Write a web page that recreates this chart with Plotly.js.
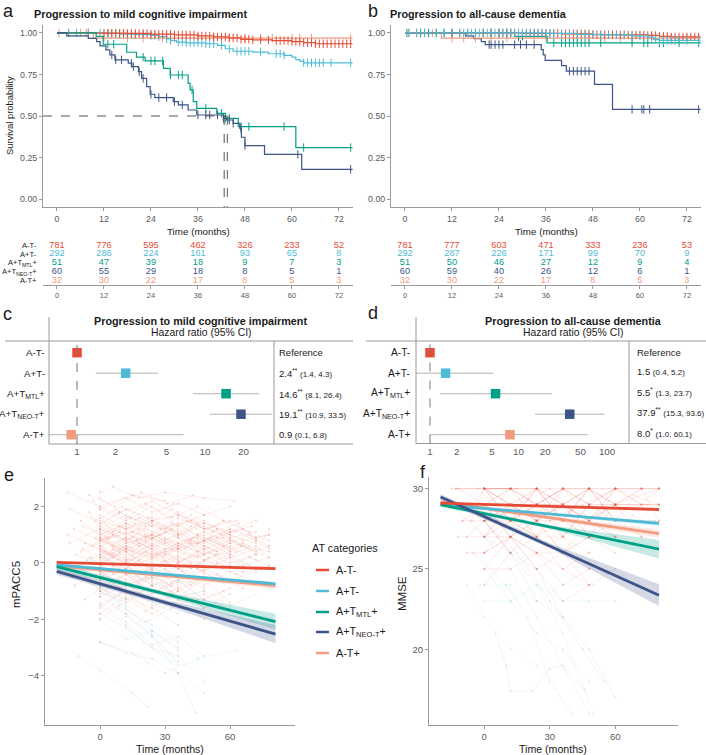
<!DOCTYPE html>
<html><head><meta charset="utf-8">
<script src="https://cdn.plot.ly/plotly-3.0.1.min.js"></script>
<style>html,body{margin:0;padding:0;background:#fff}#chart{width:706px;height:755px}</style>
</head><body><div id="chart"></div>
<script>
// ---------------- DATA ----------------
const groups = ['A-T-','A+T-','A+T<sub>MTL</sub>+','A+T<sub>NEO-T</sub>+','A-T+'];
const colors = ['#E64B35','#4DBBD5','#00A087','#3C5488','#F39B7F'];
const riskTimes = [0,12,24,36,48,60,72];

// Panel a: Kaplan-Meier, progression to MCI (step times, survival after step, censor times)
const aRedT = [0,10,18,24,30,36,40,44,47,50,55,60,63,66];
const aRedS = [1,0.999,0.997,0.993,0.988,0.982,0.976,0.97,0.962,0.958,0.954,0.948,0.942,0.935];
const aRedC = [12,13,14,15,16,17,18,19,20,21,22,23,24,25,26,27,28,29,30,31,32,33,34,35,36,37,38,39,40,41,42,43,44,45,46,47,48,49,50,52,54,56,57,58,59,60,61,62,63,64,65,66,67,68,69,70,71,72,73,74,75];
const aBlueT = [0,13,16,20,24,26,28,29,30.5,33,38,41,43,45,50,54,58,60,61,62,63];
const aBlueS = [1,0.997,0.993,0.99,0.985,0.978,0.965,0.955,0.945,0.94,0.935,0.925,0.905,0.89,0.885,0.875,0.865,0.855,0.84,0.83,0.82];
const aBlueC = [3,5,8,11,13,14,15,16,17,18,19,20,22,24,25,26,28,29,31,32,33,34,35,36,37,38,39,40,42,44,46,47,48,49,52,56,57,58,63,64,65,66,67,68,70,75];
const aGreenT = [0,10,11.8,17.8,20.3,22.5,27.2,28.9,33.5,34,34.8,35.7,40.8,43,46.3,61];
const aGreenS = [1,0.98,0.932,0.884,0.854,0.832,0.787,0.747,0.697,0.657,0.587,0.546,0.516,0.486,0.436,0.31];
const aGreenC = [13,14.5,22,24,25,27,29,31,32,34.5,38,42,43,44,47,49,58,63,75];
const aNavyT = [0,2.5,8,10.1,11,12.5,13.5,14.8,18.2,19.1,20.8,21.6,22.9,23.8,25,29.7,31,33.5,35.7,42.5,43.3,45,46.7,47.1,48,53,62.5];
const aNavyS = [1,0.983,0.967,0.948,0.922,0.898,0.868,0.838,0.818,0.797,0.767,0.727,0.677,0.631,0.611,0.587,0.567,0.536,0.506,0.486,0.476,0.456,0.426,0.372,0.322,0.269,0.179];
const aNavyC = [14,15,16.5,19,19.5,21,22,24,26,28,30,32,36,38,39,41,42.5,44,45,47,48,61.5,75];
const aSalT = [0,9.3];
const aSalS = [1,0.969];
const aSalC = [0.5,3,6,7.5,8,12,18,22,27,30,33,36,40,44,48,52,55,60,62,65,75];
const aMedians = [42.7,43.5];

// Panel b: Kaplan-Meier, progression to dementia
const bRedT = [0,30,40,48,55,62,65,68];
const bRedS = [1,0.998,0.995,0.99,0.988,0.985,0.98,0.976];
const bRedC = [12,14,16,18,20,22,24,25,26,27,28,29,30,31,32,33,34,35,36,37,38,39,40,41,42,43,44,45,46,47,48,49,50,51,52,53,54,55,56,57,58,59,60,61,62,63,64,65,66,67,68,69,70,71,72,73,74,75];
const bBlueT = [0,36,44,50,58,62,63.5,65];
const bBlueS = [1,0.997,0.992,0.988,0.983,0.975,0.96,0.955];
const bBlueC = [1,3,5,8,10,12,14,15,16,17,18,19,20,21,22,23,24,25,26,27,28,29,30,31,32,33,34,35,36,37,38,40,42,44,46,48,50,52,54,56,58,60,62,64,65,66,67,68,69,70,72,75];
const bGreenT = [0,28,36.3];
const bGreenS = [1,0.98,0.94];
const bGreenC = [0.5,4,5,6,8,10,12,20,22,24,26,27,29,30,38,40,41,42,43,44,45,46,47,50,58,61,62,65,66,70,75];
const bNavyT = [0,15.5,17.5,19.5,20.5,34.8,35.3,35.8,40,41.2,48.4,53];
const bNavyS = [1,0.983,0.966,0.948,0.93,0.9,0.868,0.835,0.803,0.77,0.69,0.54];
const bNavyC = [21.5,22,23,24,25,28,29.5,31,33,42,43,44,45,46,47,58,60.5,61,62.5,75];
const bSalT = [0,9.3];
const bSalS = [1,0.969];
const bSalC = [1,3,5,7,8,12,15,18,22,26,29,33,36,41,44,47,51,55,58,63,68,72,75];

// Numbers at risk
const riskA = [[781,776,595,462,326,233,52],[292,286,224,161,93,65,8],[51,47,39,18,9,7,3],[60,55,29,18,8,5,1],[32,30,22,17,8,5,3]];
const riskB = [[781,777,603,471,333,236,53],[292,287,226,171,99,70,9],[51,50,46,27,12,9,4],[60,59,40,26,12,6,1],[32,30,22,17,8,5,3]];

// Forest plots (hazard ratios)
const cHR = [1,2.4,14.6,19.1,0.9];
const cLo = [null,1.4,8.1,10.9,0.1];
const cHi = [null,4.3,26.4,33.5,6.8];
const cLabel = ['Reference','2.4<sup>**</sup>','14.6<sup>**</sup>','19.1<sup>**</sup>','0.9'];
const cCI = ['','(1.4, 4.3)','(8.1, 26.4)','(10.9, 33.5)','(0.1, 6.8)'];
const dHR = [1,1.5,5.5,37.9,8.0];
const dLo = [null,0.4,1.3,15.3,1.0];
const dHi = [null,5.2,23.7,93.6,60.1];
const dLabel = ['Reference','1.5','5.5<sup>*</sup>','37.9<sup>**</sup>','8.0<sup>*</sup>'];
const dCI = ['','(0.4, 5.2)','(1.3, 23.7)','(15.3, 93.6)','(1.0, 60.1)'];
const cTicks = [1,2,5,10,20];
const dTicks = [1,2,5,10,20,50,100];

// Panel e: individual mPACC5 trajectories [t0,y0,t1,y1,...]
const eTrajAmTm = [
[-12,1.2,0,0.8,15,1.1,30,0.7,45,0.9],[-8,0.5,0,0.2,12,0.6,24,0.3,36,0.5,48,0.1,60,0.4],
[0,1.5,12,1.2,24,1.6,36,1.0,48,1.3,60,0.9,72,1.1],[0,-0.6,12,-0.2,24,-0.8,36,-0.4,48,-0.9],
[-15,2.5,0,2.0,15,2.4,30,2.2],[0,0.3,15,0.9,30,0.5,45,0.2,60,0.7,78,0.4],
[0,-1.2,12,-0.7,24,-1.5,36,-1.0],[-5,1.8,0,1.4,12,1.9,24,1.5,36,1.7,48,1.2,63,1.5],
[0,0.0,12,0.4,24,-0.3,36,0.2,48,-0.1,60,0.3,72,-0.2],[0,0.9,12,0.5,24,1.0,36,0.6,48,1.1,60,0.7],
[-10,-0.3,0,-0.8,12,-0.4,24,-1.1,36,-0.6,48,-1.3,60,-0.9],[0,1.1,14,1.6,28,1.2,42,1.5,56,1.0,70,1.3],
[0,-0.2,12,0.3,24,0.0,36,-0.5,48,0.1,63,-0.4,78,-0.1],[-3,2.2,0,1.9,12,2.3,24,1.8,36,2.1,48,1.7,60,2.0],
[0,0.6,12,0.1,24,0.7,36,0.2,48,0.8,60,0.3,72,0.6,78,0.2],[0,-1.5,12,-1.0,24,-1.8,36,-1.3,48,-2.0],
[-14,0.7,0,1.2,12,0.8,24,1.3],[0,0.4,12,0.9,24,0.5,36,0.0,48,0.6,60,0.2,72,0.5],
[0,1.3,12,0.8,24,1.4,36,0.9,48,1.5,60,1.0,72,0.7],[0,-0.9,12,-0.4,24,-0.7,36,-1.2,48,-0.6,60,-1.4],
[-6,0.1,0,-0.3,12,0.2,24,-0.2,36,0.3,48,-0.4],[0,2.0,12,1.6,24,2.2,36,1.7,48,1.4],
[0,0.8,15,0.3,30,0.9,45,0.4,60,0.8,75,0.3],[0,-0.4,12,0.1,24,-0.6,36,-0.1,48,-0.8,60,-0.3,72,-0.7],
[-9,1.5,0,1.0,12,1.4,24,0.9,36,1.2,48,0.7,60,1.1],[0,0.2,12,-0.2,24,0.4,36,0.0,48,0.5,60,-0.1],
[0,1.7,12,1.2,24,1.5,36,1.0,48,1.4,60,1.1,72,1.5],[0,-0.1,12,0.5,24,0.2,36,0.7,48,0.3,60,0.8,72,0.4,78,0.6],
[-2,0.9,12,0.4,24,0.9,36,0.5,48,-0.1],[0,-1.8,12,-1.2,24,-1.6,36,-2.2],
[0,1.0,12,1.4,24,1.1,36,1.6,48,1.2,60,1.5,72,0.9],[0,0.5,12,0.0,24,0.6,36,0.1,48,-0.3,60,0.2,72,-0.2],
[-13,-0.5,0,-0.1,12,-0.6,24,-0.2],[0,2.5,6,2.7,18,2.3,30,2.5,48,2.3,62,2.2],
[0,0.7,12,1.1,24,0.6,36,1.0,48,0.5,60,0.9,72,0.3,78,1.2],[0,-0.7,12,-1.1,24,-0.5,36,-0.9,48,-1.6,60,-1.1],
[-4,1.6,0,1.2,12,1.7,24,1.3,36,1.8],[0,0.1,12,0.6,24,0.2,36,-0.2,48,0.4,60,0.0,72,0.3],
[0,1.2,12,0.7,24,1.0,36,1.4,48,0.8,60,1.2,72,0.9,78,1.0],[0,-0.3,12,-0.8,24,-0.4,36,-1.0,48,-0.5],
[0,0.9,12,1.3,24,0.8,36,0.4,48,0.9,60,0.5],[-11,0.3,0,0.0,12,0.5,24,0.1,36,0.6],
[0,1.9,12,1.5,24,2.0,36,1.3,48,1.7],[0,-1.0,12,-1.4,24,-0.8,36,-1.5,48,-1.1,60,-1.7],
[0,0.4,12,0.0,24,0.5,36,0.9,48,0.3,60,0.6,72,0.1],[0,0.6,12,0.9,24,0.3,36,0.7,48,1.0,60,0.4,72,0.8,78,0.5],
[-7,-1.3,0,-0.9,12,-1.3,24,-0.8],[0,1.4,12,1.0,24,1.5,36,1.1,48,0.6,60,1.0],
[0,-0.5,12,0.0,24,-0.3,36,-0.7,48,-0.2,60,-0.6,72,-0.3],[0,0.2,12,0.7,24,1.0,36,0.5,48,0.8,60,1.2,72,0.8],
[-15,1.0,-3,0.6,9,1.1,21,0.8,33,1.2,45,0.7,57,0.9,69,0.6],[-12,-0.8,0,-0.3,9,-0.9,21,-0.5,33,-1.0,45,-0.6],
[0,2.3,9,1.8,21,2.1,33,1.6,45,2.0,57,1.5],[0,0.0,6,0.5,18,-0.1,30,0.4,42,-0.2,54,0.3,66,-0.1,78,0.2],
[-9,0.4,3,0.9,15,0.4,27,1.0,39,0.5,51,0.9,63,0.4],[0,-1.6,9,-1.1,21,-1.7,33,-1.2],
[0,1.1,6,0.6,18,1.2,30,0.8,42,1.3,54,0.9,66,1.2,78,0.8],[-4,0.2,6,-0.4,18,0.1,30,-0.5,42,0.0,54,-0.6],
[0,0.8,9,1.3,21,0.9,33,1.4,45,1.0,57,1.5,69,1.1],[0,-0.2,6,0.3,18,-0.4,30,0.1,42,-0.5,54,0.0,66,-0.3],
[-14,1.9,-2,1.5,10,2.0,22,1.6,34,2.1],[0,0.5,6,1.0,18,0.6,30,1.1,42,0.7,54,1.2,66,0.8,78,1.0],
[0,-1.1,9,-0.6,21,-1.2,33,-0.7,45,-1.3,57,-1.0],[-7,0.7,5,0.3,17,0.8,29,0.2,41,0.7,53,0.3,65,0.6],
[0,1.6,6,1.1,18,1.6,30,1.2,42,1.7,54,1.2],[0,0.3,9,-0.2,21,0.4,33,-0.1,45,0.3,57,-0.2,69,0.2,78,-0.1],
[-10,-0.1,2,0.4,14,-0.2,26,0.3,38,-0.3,50,0.2],[0,1.3,9,1.8,21,1.3,33,1.9,45,1.4],
[0,-0.6,6,-0.1,18,-0.7,30,-0.2,42,-0.8,54,-0.4,66,-0.9],[0,0.9,9,0.4,21,1.0,33,0.5,45,1.0,57,0.6,69,1.0,78,0.6],
[-5,2.4,7,2.0,19,2.5,31,2.1,43,2.4],[0,-0.4,9,-0.9,21,-0.3,33,-0.8,45,-0.2,57,-0.7],
[0,0.6,6,0.2,18,0.7,30,0.3,42,0.8,54,0.4,66,0.7],[-8,1.3,4,0.9,16,1.4,28,1.0,40,1.5,52,1.1,64,1.4],
[0,-2.0,9,-1.5,21,-2.1,33,-1.6]
];
const eTrajAmTp = [
[0,0.2,12,-0.4,24,-0.1,36,-0.8,48,-0.5],[-6,-0.6,0,-1.0,12,-0.7,24,-1.3,36,-1.0,48,-1.6],
[0,0.9,12,0.4,24,0.6,36,0.1,48,0.3,60,-0.2],[0,-0.3,12,-0.9,24,-0.5,36,-1.2,48,-1.0,60,-1.5,72,-1.1],
[0,0.5,12,0.1,24,0.3,36,-0.2,48,0.0]
];
const eTrajApTm = [
[0,-0.5,12,-1.0,24,-1.4,36,-1.8],[0,-1.0,12,-1.5,24,-2.2,36,-2.8],
[-5,0.2,0,-0.3,12,-0.8,24,-0.5,36,-1.2,48,-1.0],[0,-2.0,12,-2.7,24,-2.4,36,-3.1],
[0,-1.5,12,-2.2,20,-2.8,33,-3.5],[-15,-0.2,0,-0.9,12,-1.3],
[0,0.3,12,-0.2,24,-0.8,36,-0.6,48,-1.3,60,-1.6],[0,-0.8,12,-1.8,24,-2.5,36,-3.6],
[0,-2.8,15,-3.2,30,-3.9,45,-3.4,63,-3.1]
];
const eTrajApTp = [
[0,-1.2,12,-1.8,24,-2.6,36,-3.9,44,-5.3],[-10,-3.3,0,-3.8,15,-4.6,22,-5.1],
[0,-2.8,12,-3.2,24,-3.4,36,-3.9,48,-4.6],[0,-0.8,12,-1.6,24,-2.4,36,-3.0],
[0,-1.8,12,-2.3,24,-3.0,36,-3.3,48,-4.2],[-8,-0.4,0,-1.0,12,-1.9,24,-2.6,36,-3.5],
[0,-1.4,12,-2.1,24,-2.9,36,-2.6,48,-3.3]
];
// Panel e model fits (x at -20, 30, 81): estimate, lower, upper
const fitXe = [-20,30,81];
const eFit = [[0.02,-0.09,-0.20],[-0.07,-0.40,-0.74],[-0.13,-1.10,-2.08],[-0.30,-1.40,-2.52],[-0.10,-0.45,-0.80]];
const eLo  = [[-0.01,-0.11,-0.24],[-0.13,-0.43,-0.80],[-0.25,-1.18,-2.36],[-0.42,-1.50,-2.84],[-0.20,-0.50,-0.92]];
const eHi  = [[0.05,-0.07,-0.16],[-0.01,-0.37,-0.68],[-0.01,-1.02,-1.80],[-0.18,-1.30,-2.20],[0.00,-0.40,-0.68]];

// Panel f: individual MMSE trajectories
const fTrajAmTm = [
[-13,30,0,30,12,29,24,30,36,30,48,29,60,30,80,30],[0,29,12,30,24,28,36,29,48,30,60,29,72,28],
[-10,28,0,29,12,27,24,28,36,29,48,27],[0,30,12,28,24,30,36,29,48,28,60,30,72,29,80,30],
[-5,29,0,30,15,30,30,28,45,29,60,30],[0,27,12,29,24,28,36,26,48,28],
[0,30,12,30,24,29,36,30,48,30,60,28,72,30],[-13,29,0,28,12,30,24,29,36,27,48,29,60,29,80,29],
[0,28,12,28,24,30,36,28,48,27,60,29],[0,30,12,29,24,29,36,30,48,29,60,30,72,30,80,28],
[-8,27,0,28,12,26,24,27,36,28],[0,29,12,27,24,29,36,28,48,30,60,28,72,27],
[0,26,12,28,24,27,36,25,48,26],[0,30,12,30,24,28,36,30,48,29,60,29,72,30],
[-12,30,0,29,12,29,24,30,36,28,48,30],[0,28,12,29,24,27,36,29,48,28,60,27,72,29,80,29],
[0,29,12,30,24,30,36,29,48,27,60,30],[0,27,12,27,24,28,36,26,48,27,60,26],
[-3,30,12,28,24,29,36,30,48,30,60,29,80,30],[0,25,12,27,24,26,36,24,48,25],
[0,29,12,28,24,30,36,27,48,29,60,28,72,28],[0,30,12,29,24,28,36,29,48,30,60,30,72,29],
[-6,28,0,30,12,28,24,29,36,28],[0,26,12,27,24,25,36,26,48,24],
[0,30,12,30,24,30,36,29,48,28,60,30,72,30,80,30],[0,28,12,26,24,28,36,27,48,29,60,27],
[0,29,12,29,24,27,36,30,48,28,60,29,72,27,80,28],[-15,29,0,27,12,29,24,28],
[0,24,12,26,24,25,36,23,48,24],[0,30,12,28,24,29,36,29,48,30,60,28],
[-15,30,0,30,12,30,24,29,36,30,48,30,60,29,72,30,80,30],[-14,29,0,29,12,28,24,29,36,29,48,28,60,29,80,29],
[-10,28,0,28,12,29,24,28,36,28,48,27,60,28,78,28],[-12,27,0,27,12,28,24,27,36,26,48,27,60,27],
[-8,26,0,26,12,27,24,26,36,26,48,25],[0,25,12,25,24,26,36,25,48,24,60,25],
[-13,30,12,30,24,30,36,28,48,30,60,30,80,29],[0,29,15,29,30,30,45,28,60,29,75,29]
];
const fTrajAmTp = [
[0,29,12,28,24,27,36,27,48,26],[-5,28,0,27,12,28,24,26,36,27,48,25],[0,30,12,29,24,28,36,29,48,28,60,27]
];
const fTrajApTm = [
[0,27,12,25,24,22,36,19,48,16],[0,28,12,26,24,24,36,21,50,16],
[0,25,12,23,24,21,36,20,48,18],[-8,24,0,22,12,20,24,19],
[0,23,12,23,24,24,36,23,48,23,60,23],[-2,24,12,24,24,23,36,24,50,24]
];
const fTrajApTp = [
[-5,26,10,24,20,22,30,18,40,16],[5,21,10,19,12,17.4,22,17.4,30,18.8,35,19,46,17.5],
[0,27,12,26,24,23,36,22,48,20,60,17],[0,29,12,27,24,25,36,22],[0,28,15,26,30,23,45,20,55,18]
];
const fitXf = [-20,30,80];
const fFit = [[29.10,28.90,28.70],[29.00,28.41,27.83],[29.00,27.61,26.23],[29.48,26.45,23.37],[29.17,28.18,27.20]];
const fLo  = [[29.04,28.86,28.63],[28.92,28.36,27.68],[28.85,27.50,25.65],[29.30,26.30,22.70],[29.02,28.08,26.95]];
const fHi  = [[29.16,28.94,28.77],[29.08,28.46,27.98],[29.15,27.72,26.80],[29.66,26.60,24.05],[29.32,28.28,27.45]];

// ---------------- HELPERS ----------------
const W = 706, H = 755;
const px = v => v / W;
const py = v => 1 - v / H;
const FONT = 'Liberation Sans, Arial, sans-serif';
const AX = '#9a9a9a', TK = '#5a5a5a';
function rgba(hex, a) {
  const n = parseInt(hex.slice(1), 16);
  return 'rgba(' + (n >> 16) + ',' + ((n >> 8) & 255) + ',' + (n & 255) + ',' + a + ')';
}
function stepAt(T, S, t) { let s = S[0]; for (let i = 0; i < T.length; i++) if (T[i] <= t) s = S[i]; return s; }
const traces = [];
function km(T, S, C, color, xa, ya, endT) {
  traces.push({type:'scatter', mode:'lines', x:T.concat([endT]), y:S.concat([S[S.length-1]]),
    line:{shape:'hv', color:color, width:1.2}, xaxis:xa, yaxis:ya, hoverinfo:'skip'});
  traces.push({type:'scatter', mode:'markers', x:C, y:C.map(t => stepAt(T, S, t)),
    marker:{symbol:'line-ns', size:6, color:color, line:{width:1, color:color}}, xaxis:xa, yaxis:ya, hoverinfo:'skip'});
}
function flat(trajs) {
  const x = [], y = [];
  trajs.forEach(tr => { for (let i = 0; i < tr.length; i += 2) { x.push(tr[i]); y.push(tr[i+1]); } x.push(null); y.push(null); });
  return {x, y};
}
function spaghetti(trajs, color, a, xa, ya) {
  const d = flat(trajs);
  traces.push({type:'scatter', mode:'lines+markers', x:d.x, y:d.y, connectgaps:false,
    line:{color:rgba(color, a), width:0.7}, marker:{size:2.2, color:rgba(color, a*1.3)},
    xaxis:xa, yaxis:ya, hoverinfo:'skip'});
}

// ---------------- TRACES ----------------
const aSets = [[aRedT,aRedS,aRedC],[aBlueT,aBlueS,aBlueC],[aGreenT,aGreenS,aGreenC],[aNavyT,aNavyS,aNavyC],[aSalT,aSalS,aSalC]];
[4,1,0,2,3].forEach(i => km(aSets[i][0], aSets[i][1], aSets[i][2], colors[i], 'x', 'y', 75.5));
const bSets = [[bRedT,bRedS,bRedC],[bBlueT,bBlueS,bBlueC],[bGreenT,bGreenS,bGreenC],[bNavyT,bNavyS,bNavyC],[bSalT,bSalS,bSalC]];
[3,4,2,0,1].forEach(i => km(bSets[i][0], bSets[i][1], bSets[i][2], colors[i], 'x2', 'y2', 75.5));
[riskA, riskB].forEach((R, k) => {
  R.forEach((row, i) => traces.push({type:'scatter', mode:'text', x:riskTimes, y:riskTimes.map(() => 5 - i),
    text:row.map(String), textfont:{size:9.2, color:colors[i], family:FONT}, textposition:'middle center',
    xaxis:k ? 'x4' : 'x3', yaxis:k ? 'y4' : 'y3', hoverinfo:'skip'}));
});
function forest(HR, Lo, Hi, xa, ya) {
  const lx = [], ly = [];
  HR.forEach((h, i) => { if (Lo[i] !== null) { lx.push(Lo[i], Hi[i], null); ly.push(5 - i, 5 - i, null); } });
  traces.push({type:'scatter', mode:'lines', x:lx, y:ly, line:{color:'#b3b3b3', width:1}, xaxis:xa, yaxis:ya, hoverinfo:'skip'});
  traces.push({type:'scatter', mode:'markers', x:HR, y:HR.map((h, i) => 5 - i),
    marker:{symbol:'square', size:9.5, color:colors, line:{width:0}}, xaxis:xa, yaxis:ya, hoverinfo:'skip'});
}
forest(cHR, cLo, cHi, 'x5', 'y5');
forest(dHR, dLo, dHi, 'x6', 'y6');
spaghetti(eTrajAmTm, colors[0], 0.15, 'x7', 'y7');
spaghetti(eTrajAmTp, colors[4], 0.18, 'x7', 'y7');
spaghetti(eTrajApTm, colors[1], 0.15, 'x7', 'y7');
spaghetti(eTrajApTp, colors[3], 0.09, 'x7', 'y7');
spaghetti(fTrajAmTm, colors[0], 0.16, 'x8', 'y8');
spaghetti(fTrajAmTp, colors[4], 0.18, 'x8', 'y8');
spaghetti(fTrajApTm, colors[1], 0.13, 'x8', 'y8');
spaghetti(fTrajApTp, colors[3], 0.09, 'x8', 'y8');
function fits(FX, F, L, U, xa, ya) {
  [0,1,4,2,3].forEach(i => {
    traces.push({type:'scatter', mode:'lines', x:FX.concat(FX.slice().reverse()), y:U[i].concat(L[i].slice().reverse()),
      fill:'toself', fillcolor:rgba(colors[i], 0.22), line:{width:0}, xaxis:xa, yaxis:ya, hoverinfo:'skip'});
  });
  [4,1,2,3,0].forEach(i => {
    traces.push({type:'scatter', mode:'lines', x:FX, y:F[i], line:{color:colors[i], width:2.8}, xaxis:xa, yaxis:ya, hoverinfo:'skip'});
  });
}
fits(fitXe, eFit, eLo, eHi, 'x7', 'y7');
fits(fitXf, fFit, fLo, fHi, 'x8', 'y8');

// ---------------- LAYOUT ----------------
function xAx(d0, d1, range, tickvals, size, anchor, extra) {
  return Object.assign({domain:[px(d0), px(d1)], range:range, tickvals:tickvals, showline:true, linecolor:AX, linewidth:1,
    ticks:'outside', ticklen:3, tickcolor:AX, tickfont:{size:size, color:TK, family:FONT}, showgrid:false, zeroline:false,
    anchor:anchor, fixedrange:true}, extra || {});
}
function yAx(top, bot, range, tickvals, size, anchor, extra) {
  return Object.assign({domain:[py(bot), py(top)], range:range, tickvals:tickvals, showline:true, linecolor:AX, linewidth:1,
    ticks:'outside', ticklen:3, tickcolor:AX, tickfont:{size:size, color:TK, family:FONT}, showgrid:false, zeroline:false,
    anchor:anchor, fixedrange:true}, extra || {});
}
const kmTicks = [0,12,24,36,48,60,72];
const survTicks = [0,0.25,0.5,0.75,1];
const hidden = {visible:false};

const layout = {
  width:W, height:H, margin:{l:0, r:0, t:0, b:0}, showlegend:false,
  paper_bgcolor:'#fff', plot_bgcolor:'rgba(0,0,0,0)', font:{family:FONT, color:'#222'},
  xaxis:  xAx(43, 353, [-3.57, 75.6], kmTicks, 8.8, 'y'),
  yaxis:  yAx(25, 207, [-0.048, 1.048], survTicks, 8.8, 'x', {tickformat:'.2f'}),
  xaxis2: xAx(391, 701, [-3.57, 75.6], kmTicks, 8.8, 'y2'),
  yaxis2: yAx(25, 207, [-0.048, 1.048], survTicks, 8.8, 'x2', {tickformat:'.2f'}),
  xaxis3: xAx(43, 353, [-3.57, 75.6], kmTicks, 7.5, 'y3'),
  yaxis3: Object.assign({domain:[py(285.3), py(238)], range:[0.43, 5.83], anchor:'x3'}, hidden),
  xaxis4: xAx(391, 701, [-3.57, 75.6], kmTicks, 7.5, 'y4'),
  yaxis4: Object.assign({domain:[py(285.3), py(238)], range:[0.43, 5.83], anchor:'x4'}, hidden),
  xaxis5: xAx(49, 274, [Math.log10(0.604), Math.log10(34.6)], cTicks, 9.8, 'y5', {type:'log', showline:false, ticks:'', ticktext:cTicks.map(String)}),
  yaxis5: Object.assign({domain:[py(444), py(341)], range:[0.546, 5.571], anchor:'x5'}, hidden),
  xaxis6: xAx(416, 629, [Math.log10(0.695), Math.log10(177)], dTicks, 9.8, 'y6', {type:'log', showline:false, ticks:'', ticktext:dTicks.map(String)}),
  yaxis6: Object.assign({domain:[py(444), py(341)], range:[0.546, 5.571], anchor:'x6'}, hidden),
  xaxis7: xAx(45, 295, [-25.4, 90], [0,30,60], 9.5, 'y7'),
  yaxis7: yAx(478, 725, [-5.74, 3.01], [-4,-2,0,2], 9.5, 'x7', {ticktext:['\u22124','\u22122','0','2']}),
  xaxis8: xAx(429, 678, [-25.3, 88.7], [0,30,60], 9.5, 'y8'),
  yaxis8: yAx(477, 725, [15.3, 30.72], [20,25,30], 9.5, 'x8'),
  shapes: [], annotations: []
};
['xaxis5','xaxis6','yaxis7'].forEach(k => layout[k].tickmode = 'array');

const S = layout.shapes, A = layout.annotations;
function pline(x0, y0, x1, y1, color, dash, w) {
  S.push({type:'line', xref:'paper', yref:'paper', x0:px(x0), y0:py(y0), x1:px(x1), y1:py(y1),
    line:{color:color || '#9a9a9a', width:w || 1, dash:dash || 'solid'}});
}
function txt(x, y, text, size, opts) {
  A.push(Object.assign({xref:'paper', yref:'paper', x:px(x), y:py(y), text:text, showarrow:false,
    font:{size:size, color:'#1a1a1a', family:FONT}, xanchor:'center', yanchor:'middle'}, opts || {}));
}

S.push({type:'line', xref:'x', yref:'y', x0:-3.57, x1:aMedians[1], y0:0.5, y1:0.5, line:{color:'#555', width:1, dash:'dash'}});
aMedians.forEach(m => S.push({type:'line', xref:'x', yref:'y', x0:m, x1:m, y0:0.5, y1:-0.048, line:{color:'#555', width:1, dash:'dash'}}));

pline(5, 341, 353, 341); pline(49, 317, 49, 444); pline(49, 444, 353, 444); pline(274, 341, 274, 444);
pline(366, 341, 706, 341); pline(416, 317, 416, 443.5); pline(416, 443.5, 706, 443.5); pline(629, 341, 629, 443.5);
S.push({type:'line', xref:'x5', yref:'paper', x0:1, x1:1, y0:py(444), y1:py(341), line:{color:'#777', width:1, dash:'dash'}});
S.push({type:'line', xref:'x6', yref:'paper', x0:1, x1:1, y0:py(443.5), y1:py(341), line:{color:'#777', width:1, dash:'dash'}});

txt(1, 11, 'a', 18, {xanchor:'left'});
txt(366, 11, 'b', 18, {xanchor:'left'});
txt(1, 314, 'c', 18, {xanchor:'left'});
txt(366, 313, 'd', 18, {xanchor:'left'});
txt(2, 475, 'e', 18, {xanchor:'left'});
txt(418, 472, 'f', 18, {xanchor:'left'});

txt(32, 14, '<b>Progression to mild cognitive impairment</b>', 10.8, {xanchor:'left'});
txt(388, 14, '<b>Progression to all-cause dementia</b>', 10.8, {xanchor:'left'});
txt(10, 116, 'Survival probability', 9.4, {textangle:-90});
txt(198, 231, 'Time (months)', 9.8);
txt(546, 231, 'Time (months)', 9.8);

groups.forEach((g, i) => txt(39, 245.3 + 8.75 * i, g, 7.5, {xanchor:'right'}));

txt(201, 321, '<b>Progression to mild cognitive impairment</b>', 10.8);
txt(201, 333, 'Hazard ratio (95% CI)', 10.4);
txt(573, 321, '<b>Progression to all-cause dementia</b>', 10.8);
txt(573, 333, 'Hazard ratio (95% CI)', 10.4);
const rowsY = [352.7, 373.2, 393.7, 414.2, 434.7];
groups.forEach((g, i) => {
  txt(47, rowsY[i], g, 9.8, {xanchor:'right'});
  txt(412, rowsY[i], g, 10.2, {xanchor:'right'});
  txt(277, rowsY[i], cLabel[i] + (cCI[i] ? ' <span style="font-size:8px">' + cCI[i] + '</span>' : ''), 9.5, {xanchor:'left'});
  txt(635, rowsY[i] - (i ? 2 : 0), dLabel[i] + (dCI[i] ? ' <span style="font-size:8px">' + dCI[i] + '</span>' : ''), 9.5, {xanchor:'left'});
});

txt(16, 585, 'mPACC5', 11.5, {textangle:-90});
txt(170, 749, 'Time (months)', 10.6);
txt(402, 593, 'MMSE', 11.5, {textangle:-90});
txt(553, 749, 'Time (months)', 10.6);

txt(310, 548, 'AT categories', 10.8, {xanchor:'left'});
const legY = [570, 591, 612, 632, 653];
groups.forEach((g, i) => {
  pline(316, legY[i], 329, legY[i], colors[i], 'solid', 2.5);
  txt(334, legY[i], g, 10.8, {xanchor:'left'});
});

Plotly.newPlot('chart', traces, layout, {staticPlot:true, displayModeBar:false});
</script>
</body></html>
